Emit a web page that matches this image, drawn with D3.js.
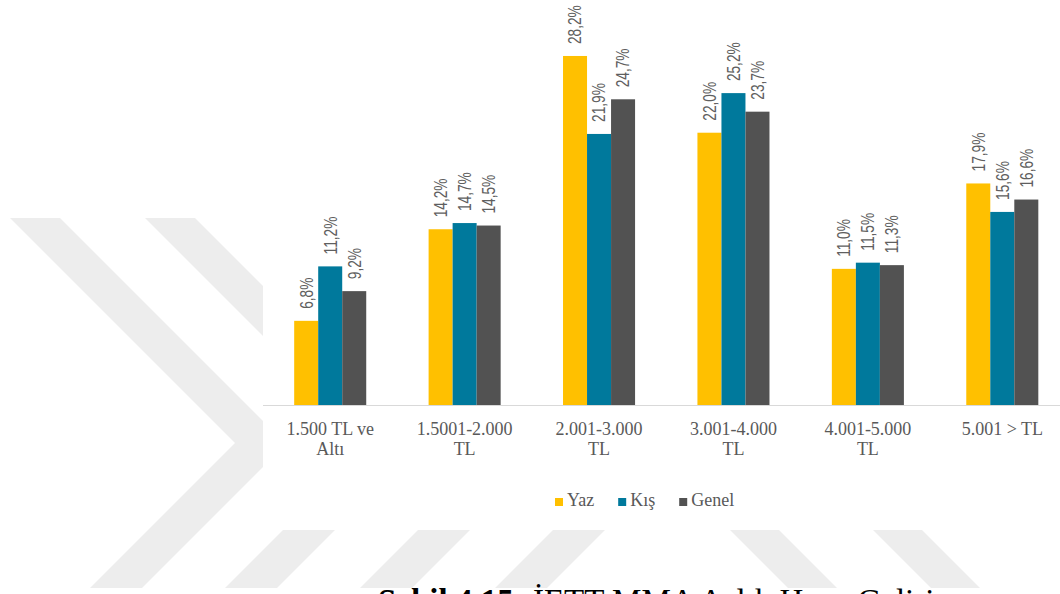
<!DOCTYPE html>
<html>
<head>
<meta charset="utf-8">
<script src="https://cdn.jsdelivr.net/npm/d3@7"></script>
<style>
  body { margin: 0; background: #fff; }
  svg { display: block; }
</style>
</head>
<body>
<div id="chart"></div>
<script>
// monthly household income groups, share of respondents by season
const categories = ['1.500 TL ve\nAltı', '1.5001-2.000\nTL', '2.001-3.000\nTL', '3.001-4.000\nTL', '4.001-5.000\nTL', '5.001 > TL']
const seriesNames = ['Yaz', 'Kış', 'Genel']
const yaz = [6.8, 14.2, 28.2, 22.0, 11.0, 17.9]
const kis = [11.2, 14.7, 21.9, 25.2, 11.5, 15.6]
const genel = [9.2, 14.5, 24.7, 23.7, 11.3, 16.6]
const colors = ['#FFC000', '#00799C', '#525252']
const caption = ['Şekil 4.15: ', 'İETT MMA Aylık Hane Geliri']

const width = 1060, height = 594
const plot = {left: 263, right: 1069.5, top: 33.7, bottom: 405}

const svg = d3.select('#chart').append('svg')
  .attr('width', width)
  .attr('height', height)

// watermark chevrons behind everything
const wm = svg.append('g').attr('fill', '#ededed')
for (const x0 of [10, 145, 280, 415]) {
  wm.append('polygon')
    .attr('points', [[x0, 218], [x0 + 50, 218], [x0 + 276, 444], [x0 + 132, 588], [x0 + 80, 588], [x0 + 225, 443]].join(' '))
}
for (const x0 of [730, 873]) {
  wm.append('polygon')
    .attr('points', [[x0, 530], [x0 + 49, 530], [x0 + 107, 588], [x0 + 58, 588]].join(' '))
}
// chart area is opaque white
svg.append('rect')
  .attr('x', plot.left).attr('y', 0)
  .attr('width', width - plot.left).attr('height', 530)
  .attr('fill', '#fff')

const rows = categories.map((c, i) => ({cat: c, values: [yaz[i], kis[i], genel[i]]}))

const x = d3.scaleBand()
  .domain(categories)
  .range([plot.left, plot.right])
  .paddingInner(0.464)
  .paddingOuter(0.232)
const x1 = d3.scaleBand()
  .domain(seriesNames)
  .range([0, x.bandwidth()])
const y = d3.scaleLinear()
  .domain([0, 30])
  .range([plot.bottom, plot.top])

const fmt = v => v.toFixed(1).replace('.', ',') + '%'

// bars
const groups = svg.append('g').selectAll('.grp').data(rows)
  .enter().append('g')
  .attr('class', 'grp')
  .attr('transform', d => `translate(${x(d.cat)},0)`)
groups.selectAll('rect').data(d => d.values.map((v, j) => ({name: seriesNames[j], v: v, j: j})))
  .enter().append('rect')
  .attr('x', d => x1(d.name))
  .attr('y', d => y(d.v))
  .attr('width', x1.bandwidth())
  .attr('height', d => plot.bottom - y(d.v))
  .attr('fill', d => colors[d.j])

// rotated value labels, squeezed along the text direction
groups.selectAll('.lbl').data(d => d.values.map((v, j) => ({name: seriesNames[j], v: v})))
  .enter().append('text')
  .attr('class', 'lbl')
  .attr('transform', d => `translate(${x1(d.name) + x1.bandwidth() / 2},${y(d.v) - 12}) rotate(-90) scale(0.76,1)`)
  .attr('dy', '0.35em')
  .text(d => fmt(d.v))
  .style('font-family', '"Liberation Sans", sans-serif')
  .style('font-size', '18px')
  .attr('fill', '#5f5f5f')

// category axis
const axisG = svg.append('g')
  .attr('transform', `translate(0,${plot.bottom})`)
  .call(d3.axisBottom(x).tickSize(0).tickSizeOuter(0))
axisG.select('.domain')
  .attr('stroke', '#d9d9d9')
  .attr('stroke-width', 1.2)
  .attr('d', `M${plot.left},0.5H${width}`)
axisG.selectAll('.tick text').each(function(d) {
  const t = d3.select(this)
  t.text(null)
    .attr('y', 30)
    .attr('dy', null)
    .attr('fill', '#595959')
    .style('font-family', '"Liberation Serif", "Times New Roman", serif')
    .style('font-size', '18px')
  d.split('\n').forEach((line, k) => {
    t.append('tspan').attr('x', 0).attr('dy', k ? 20 : 0).text(line)
  })
})

// legend
const legend = svg.append('g').attr('transform', 'translate(555,506)')
let lx = 0
seriesNames.forEach((name, j) => {
  const item = legend.append('g').attr('transform', `translate(${lx},0)`)
  item.append('rect')
    .attr('x', 0).attr('y', -8)
    .attr('width', 8).attr('height', 8)
    .attr('fill', colors[j])
  const t = item.append('text')
    .attr('x', 12).attr('y', 0)
    .text(name)
    .attr('fill', '#595959')
    .style('font-family', '"Liberation Serif", "Times New Roman", serif')
    .style('font-size', '18px')
  lx += 12 + t.node().getComputedTextLength() + 24
})

// figure caption, cut off by the bottom edge
const cap = svg.append('text')
  .attr('x', 378).attr('y', 612)
  .attr('fill', '#000')
  .style('font-family', '"Liberation Serif", "Times New Roman", serif')
  .style('font-size', '33px')
cap.append('tspan').style('font-weight', 'bold').text(caption[0])
cap.append('tspan').text(caption[1])
</script>
</body>
</html>
